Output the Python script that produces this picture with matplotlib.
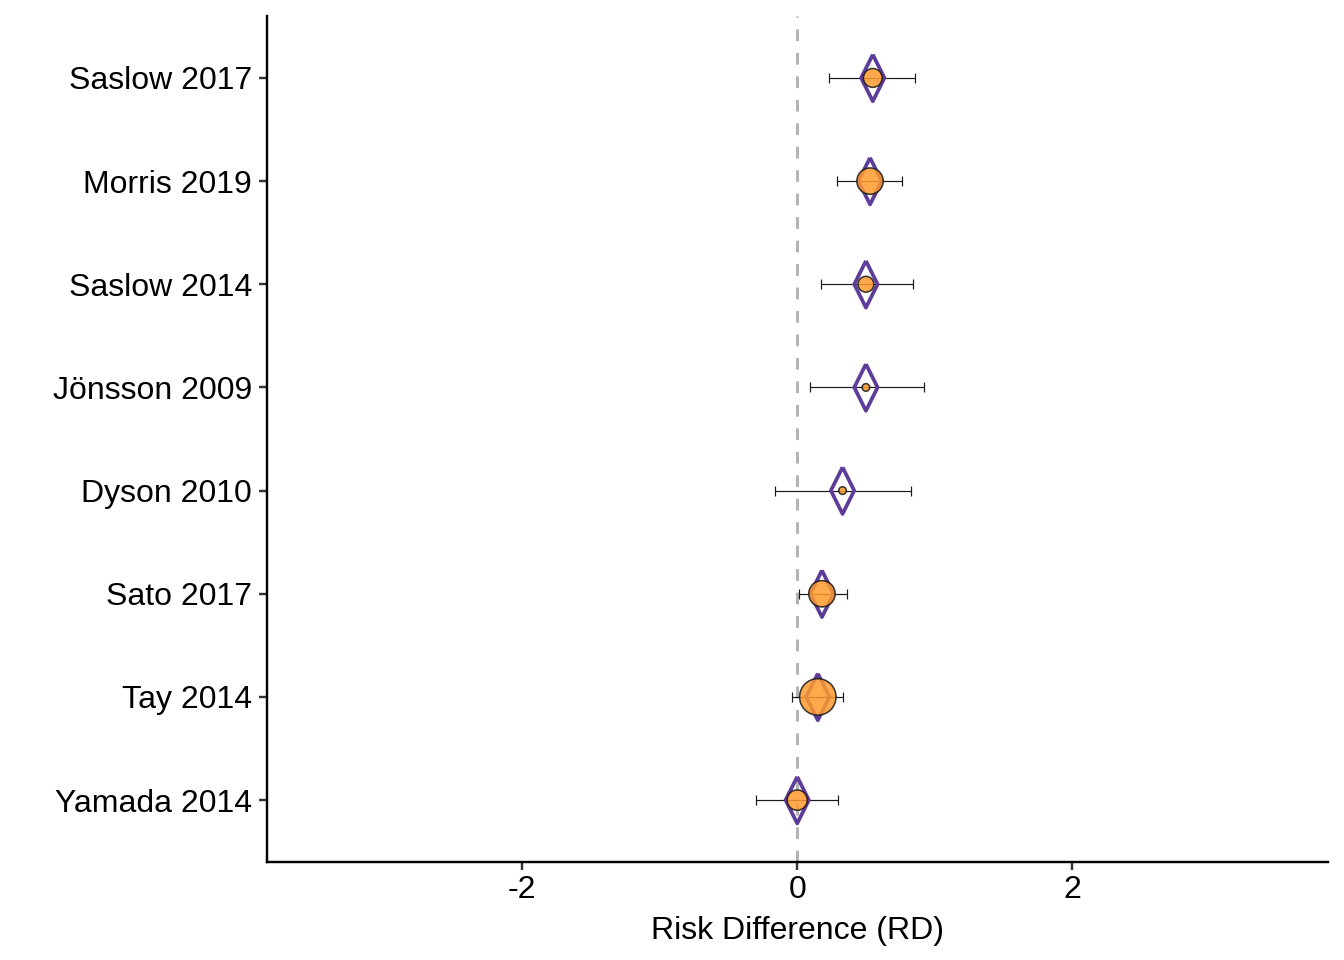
import numpy as np
import matplotlib
matplotlib.use("Agg")
import matplotlib.pyplot as plt

plt.rcParams["font.family"] = ["Liberation Sans", "DejaVu Sans"]

# --------- data --------- #
studies = ["Yamada 2014", "Tay 2014", "Sato 2017", "Dyson 2010",
           "Jönsson 2009", "Saslow 2014", "Morris 2019", "Saslow 2017"]
rd = [0.00, 0.15, 0.18, 0.33, 0.50, 0.50, 0.53, 0.55]
ci_low = [-0.30, -0.04, 0.01, -0.16, 0.09, 0.17, 0.29, 0.23]
ci_high = [0.30, 0.33, 0.36, 0.83, 0.92, 0.84, 0.76, 0.86]
weights = [10.7, 34.6, 18.0, 1.5, 1.5, 6.5, 18.0, 9.2]   # study weight (%)

ORANGE = "#ff9a2e"
PURPLE = "#5e3c99"

fig = plt.figure(figsize=(7, 5), dpi=192)
ax = fig.add_axes([0.1984, 0.1021, 0.9879 - 0.1984, 0.9833 - 0.1021])

y = np.arange(1, len(studies) + 1)
rd_arr = np.array(rd)
err = [rd_arr - np.array(ci_low), np.array(ci_high) - rd_arr]

# reference line at zero
ax.axvline(0, color="#b3b3b3", lw=1.1, ls=(0, (4, 4)), zorder=1)

# confidence intervals
ax.errorbar(rd, y, xerr=err, fmt="none", ecolor="#1a1a1a", elinewidth=0.45,
            capsize=1.9, capthick=0.45, zorder=2)

# diamonds
diamond = [(0, 1), (0.5, 0), (0, -1), (-0.5, 0), (0, 1)]
ax.scatter(rd, y, marker=diamond, s=17.5 ** 2, facecolors="none",
           edgecolors=PURPLE, linewidths=1.4, zorder=3)

# study points sized by weight
px_per_pt = 192 / 72
r_pt = 3.1 * np.sqrt(np.array(weights)) / px_per_pt
ax.scatter(rd, y, s=(2 * r_pt) ** 2, color=ORANGE, alpha=0.85,
           edgecolors="#1a1a1a", linewidths=0.6, zorder=4)

ax.set_xlim(-3.86, 3.86)
ax.set_ylim(0.4, 8.6)
ax.set_xticks([-2, 0, 2])
ax.set_xticklabels(["-2", "0", "2"])
ax.set_yticks(y)
ax.set_yticklabels(studies)
ax.set_xlabel("Risk Difference (RD)", fontsize=12, labelpad=4)

for side in ["top", "right"]:
    ax.spines[side].set_visible(False)
for side in ["left", "bottom"]:
    ax.spines[side].set_linewidth(0.9)
    ax.spines[side].set_color("black")

ax.tick_params(axis="both", labelsize=12, colors="#333333", width=0.9,
               length=3, labelcolor="black")
ax.tick_params(axis="y", pad=2.5)
ax.tick_params(axis="x", pad=2)

fig.savefig("out.png", dpi=192)
